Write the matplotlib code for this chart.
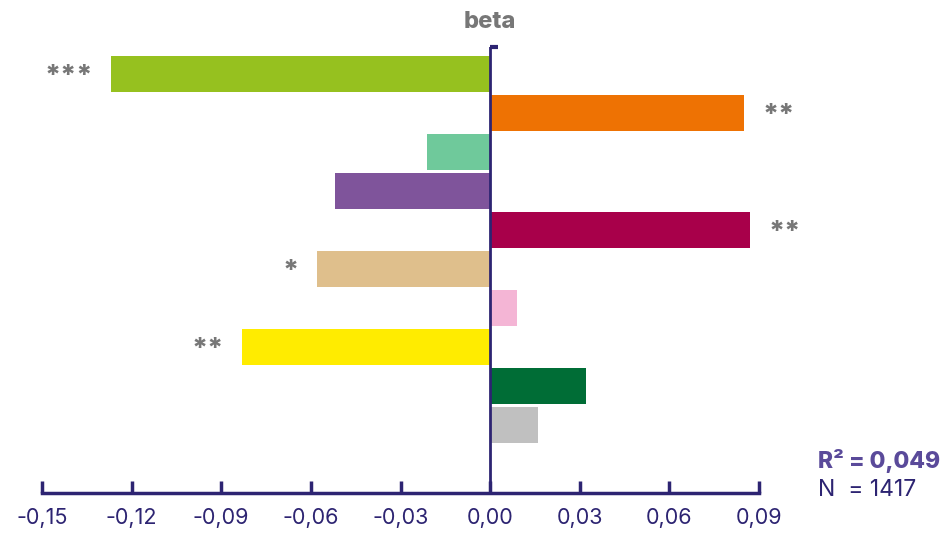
import matplotlib.pyplot as plt
import numpy as np

# regression coefficients, top to bottom
betas = [-0.127, 0.085, -0.021, -0.052, 0.087, -0.058, 0.009, -0.083, 0.032, 0.016]
stars = ["***", "**", "", "", "**", "*", "", "**", "", ""]
colors = ["#96c11f", "#ee7203", "#6fc99b", "#7f549b", "#a8004a",
          "#dfbf8c", "#f4b5d5", "#ffec00", "#006d36", "#c0c0c0"]
xticks = [-0.15, -0.12, -0.09, -0.06, -0.03, 0.00, 0.03, 0.06, 0.09]
r2_text = "R² = 0,049"
n_text = "N  = 1417"

navy = "#2d2472"
plt.rcParams['font.family'] = ['Inter', 'DejaVu Sans']

fig = plt.figure(figsize=(9.47, 5.36), dpi=100)
ax = fig.add_axes([42 / 947, 43 / 536, 717 / 947, 446 / 536])

y = np.arange(len(betas))
ax.barh(y, betas, height=0.92, color=colors, zorder=2)

for yi, b, s in zip(y, betas, stars):
    if not s:
        continue
    off = 13 if b > 0 else -13
    ax.annotate(s, (b, yi), xytext=(off, -2), textcoords="offset points",
                ha="left" if b > 0 else "right", va="center",
                fontsize=20, fontweight="heavy", color="#777777")

ax.set_xlim(-0.15, 0.09)
ax.set_ylim(10.74, -0.69)

for side in ("top", "right", "left"):
    ax.spines[side].set_visible(False)
ax.spines["bottom"].set_color(navy)
ax.spines["bottom"].set_linewidth(2.5)

# zero line with a small cap at the top
ax.axvline(0, color=navy, lw=2, zorder=3)
ax.plot([0, 0.0025], [-0.69, -0.69], color=navy, lw=3, zorder=3,
        solid_capstyle="butt", clip_on=False)

ax.set_yticks([])
ax.set_xticks(xticks)
ax.set_xticklabels([f"{t:.2f}".replace(".", ",") for t in xticks])
ax.tick_params(axis="x", direction="in", length=9, width=2.5, color=navy,
               labelcolor=navy, labelsize=15.5, pad=11)

fig.text(490 / 947, 1 - 22 / 536, "beta", ha="center", va="center",
         fontsize=17, fontweight="heavy", color="#777777")
fig.text(818 / 947, 1 - 461 / 536, r2_text, ha="left", va="center",
         fontsize=16.5, fontweight="heavy", color="#5a4a9a")
fig.text(818 / 947, 1 - 490 / 536, n_text, ha="left", va="center",
         fontsize=16.5, color=navy)

fig.savefig("out.png", dpi=100)
